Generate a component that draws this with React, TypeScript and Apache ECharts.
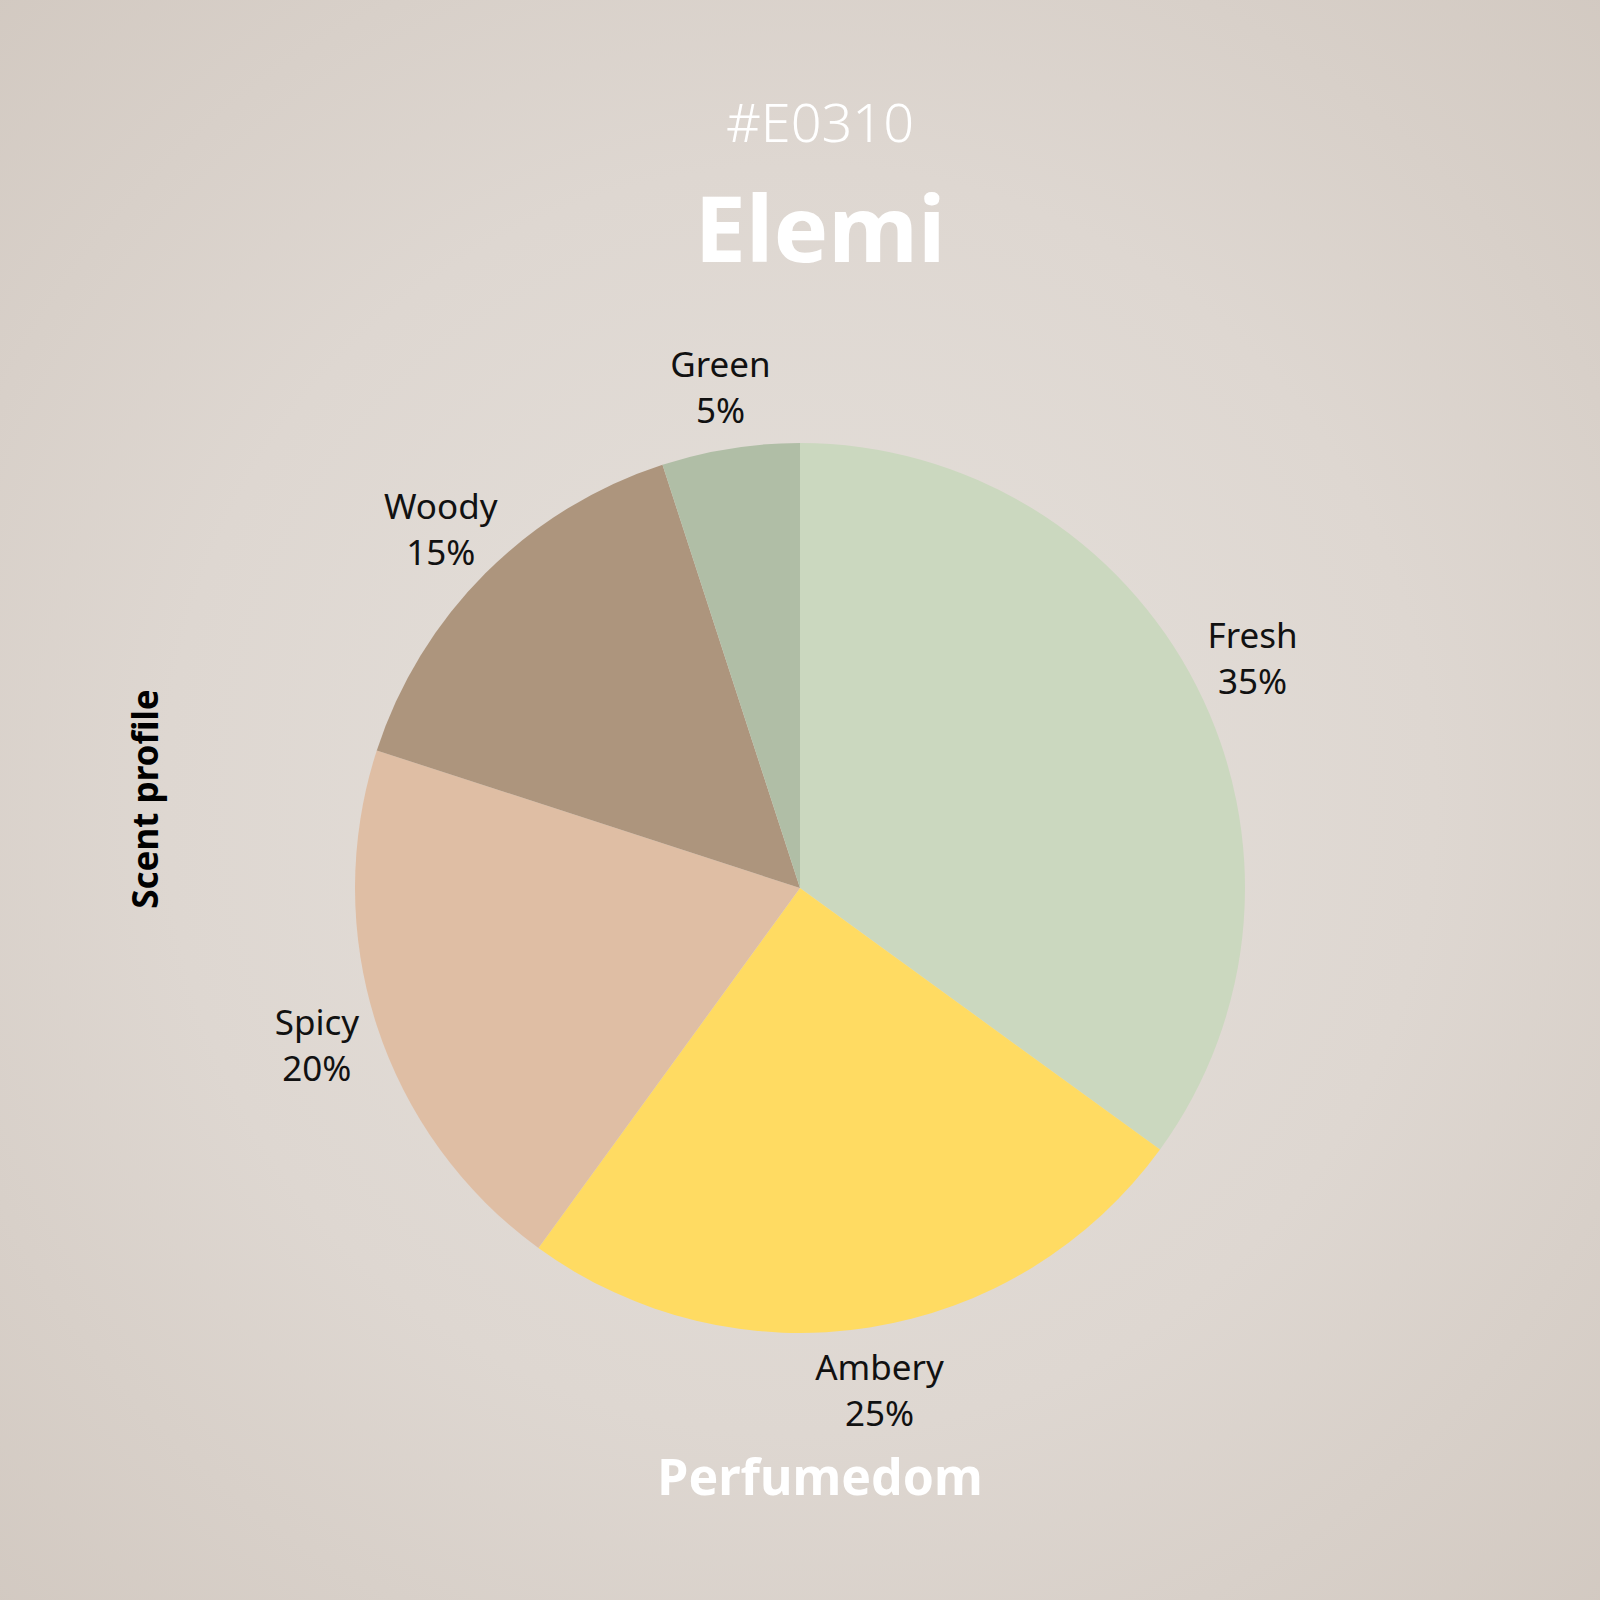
import React, { useEffect, useRef } from "react";
import * as echarts from "echarts";

const categories = ["Fresh", "Ambery", "Spicy", "Woody", "Green"];
const values = [35, 25, 20, 15, 5];
const colors = ["#CBD8BF", "#FFDB62", "#DFBEA4", "#AD957D", "#B0BEA6"];
const codeText = "#E0310";
const titleText = "Elemi";
const brandText = "Perfumedom";
const sideText = "Scent profile";

const FONT = "'Noto Sans', 'Open Sans', sans-serif";

export default function App() {
  const ref = useRef<HTMLDivElement>(null);

  useEffect(() => {
    document.body.style.margin = "0";
    if (!ref.current) return;
    const chart = echarts.init(ref.current, undefined, { renderer: "svg" });
    const data = categories.map((name, i) => ({
      name,
      value: values[i],
      itemStyle: { color: colors[i] },
    }));
    chart.setOption({
      animation: false,
      backgroundColor: new echarts.graphic.RadialGradient(0.5, 0.5, 0.72, [
        { offset: 0, color: "#E5E0DB" },
        { offset: 0.55, color: "#DED7D1" },
        { offset: 1, color: "#D2C9C1" },
      ]),
      graphic: [
        {
          type: "text",
          x: 820,
          y: 121,
          style: {
            text: codeText,
            fill: "#FFFFFF",
            font: `300 54px ${FONT}`,
            textAlign: "center",
            textVerticalAlign: "middle",
          },
        },
        {
          type: "text",
          x: 820,
          y: 226,
          style: {
            text: titleText,
            fill: "#FFFFFF",
            font: `bold 92px ${FONT}`,
            textAlign: "center",
            textVerticalAlign: "middle",
          },
        },
        {
          type: "text",
          x: 820,
          y: 1476,
          style: {
            text: brandText,
            fill: "#FFFFFF",
            font: `bold 50px ${FONT}`,
            textAlign: "center",
            textVerticalAlign: "middle",
          },
        },
        {
          type: "text",
          x: 144,
          y: 799,
          rotation: Math.PI / 2,
          style: {
            text: sideText,
            fill: "#000000",
            font: `bold 35px ${FONT}`,
            textAlign: "center",
            textVerticalAlign: "middle",
          },
        },
      ],
      series: [
        {
          type: "pie",
          center: [800, 888],
          radius: [0, 445],
          startAngle: 90,
          clockwise: true,
          silent: true,
          label: { show: false },
          labelLine: { show: false },
          data,
        },
        {
          type: "pie",
          center: [800, 888],
          radius: [445, 565],
          startAngle: 90,
          clockwise: true,
          silent: true,
          itemStyle: { color: "rgba(0,0,0,0)" },
          label: {
            show: true,
            position: "inside",
            formatter: "{b}\n{d}%",
            color: "#111111",
            fontFamily: FONT,
            fontSize: 35,
            lineHeight: 46,
            align: "center",
          },
          labelLine: { show: false },
          data: categories.map((name, i) => ({ name, value: values[i] })),
        },
      ],
    });
    return () => chart.dispose();
  }, []);

  return <div ref={ref} style={{ width: 1600, height: 1600 }} />;
}
